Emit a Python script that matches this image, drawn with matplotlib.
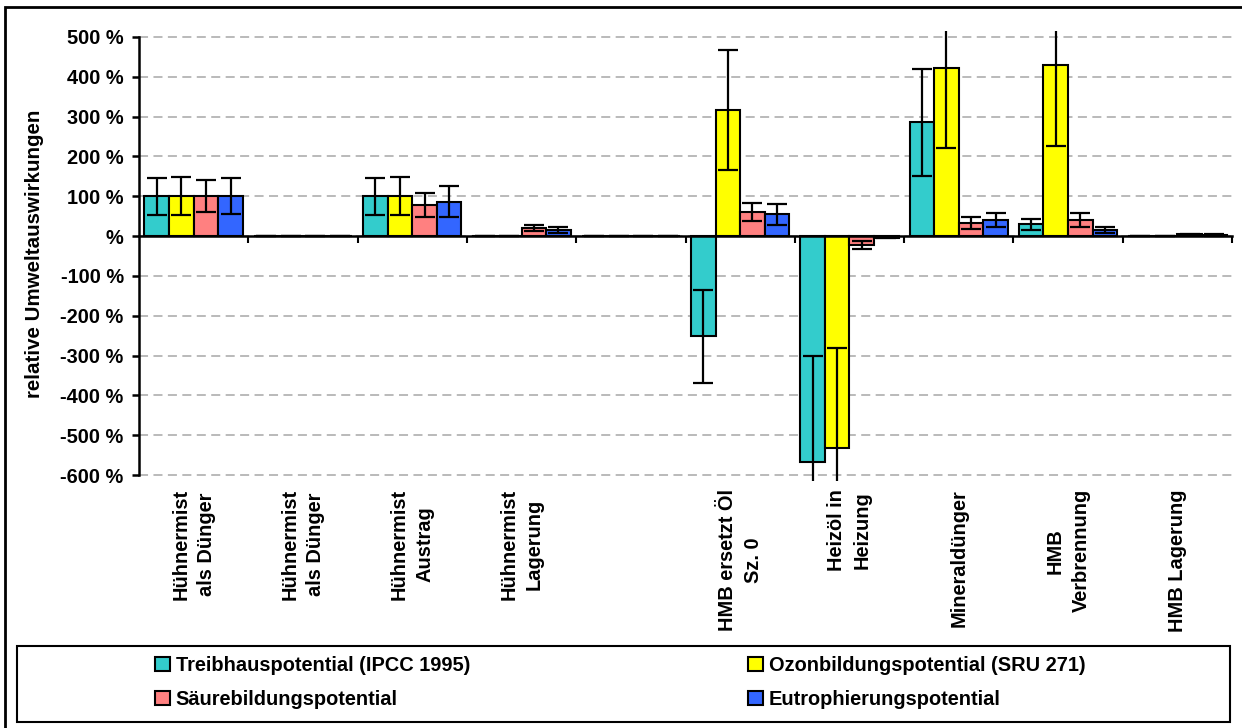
import numpy as np
import matplotlib
matplotlib.use("Agg")
import matplotlib.pyplot as plt
from matplotlib.patches import Rectangle

plt.rcParams['font.family'] = ['Liberation Sans', 'DejaVu Sans']
plt.rcParams['font.weight'] = 'bold'

# ---------------------------------------------------------
# DATA (relative environmental impacts, %)
# ---------------------------------------------------------
categories = ["Hühnermist\nals Dünger", "Hühnermist\nals Dünger", "Hühnermist\nAustrag",
              "Hühnermist\nLagerung", "", "HMB ersetzt Öl\nSz. 0", "Heizöl in\nHeizung",
              "Mineraldünger", "HMB\nVerbrennung", "HMB Lagerung"]

treib = [100, 0, 100, 0, 0, -252, -568, 286, 30, 0]
treib_err = [47, 0, 47, 0, 0, 117, 266, 134, 14, 0]
ozon = [100, 0, 100, 0, 0, 317, -531, 421, 429, 0]
ozon_err = [48, 0, 48, 0, 0, 151, 251, 200, 204, 0]
saeure = [100, 0, 78, 21, 0, 60, -23, 32, 40, 4]
saeure_err = [40, 0, 31, 8, 0, 23, 10, 15, 17, 2]
eutro = [100, 0, 86, 15, 0, 55, -4, 40, 15, 3]
eutro_err = [45, 0, 39, 7, 0, 26, 2, 18, 7, 2]

series_names = ["Treibhauspotential (IPCC 1995)", "Ozonbildungspotential (SRU 271)",
                "Säurebildungspotential", "Eutrophierungspotential"]
yticks = list(range(-600, 501, 100))

# ---------------------------------------------------------
# FIGURE
# ---------------------------------------------------------
W, H = 1242, 728
fig = plt.figure(figsize=(W / 100, H / 100), dpi=100)
ax = fig.add_axes([139 / W, (H - 481) / H, (1232 - 139) / W, (481 - 31) / H])

colors = ["#33CCCC", "#FFFF00", "#FF8080", "#3366FF"]
vals = [treib, ozon, saeure, eutro]
errs = [treib_err, ozon_err, saeure_err, eutro_err]

x = np.arange(len(categories))
w = 0.225
bars = []
for i in range(4):
    b = ax.bar(x + (i - 1.5) * w, vals[i], width=w, color=colors[i],
               edgecolor="black", linewidth=1.5, label=series_names[i], zorder=3,
               yerr=errs[i],
               error_kw=dict(ecolor="black", elinewidth=1.6, capsize=7, capthick=1.6, zorder=4))
    bars.append(b)

ax.set_xlim(-0.5, len(categories) - 0.5)
ax.set_ylim(-615, 515)

# axes styling
for s in ["top", "right"]:
    ax.spines[s].set_visible(False)
ax.spines["left"].set_bounds(-600, 500)
ax.spines["left"].set_linewidth(1.8)
ax.spines["bottom"].set_position(("data", 0))
ax.spines["bottom"].set_linewidth(1.8)
ax.spines["bottom"].set_zorder(5)

ax.set_yticks(yticks)
ax.set_yticklabels([f"{v} %" if v != 0 else "%" for v in yticks], fontsize=14.4, fontweight="bold")
ax.tick_params(axis="y", direction="out", length=5, width=1.8, pad=6)

ax.set_xticks(x)
ax.set_xticklabels([])
ax.tick_params(axis="x", which="major", length=0)
ax.set_xticks(np.arange(len(categories)) + 0.5, minor=True)
ax.tick_params(axis="x", which="minor", direction="out", length=5, width=1.5)

ax.yaxis.grid(True, color="#b4b4b4", linestyle=(0, (5, 3)), linewidth=1.3)
ax.set_axisbelow(True)

# category labels below plot area
for xi, lab in zip(x, categories):
    ax.annotate(lab, xy=(xi, 0), xycoords=("data", "axes fraction"),
                xytext=(0, -8), textcoords="offset pixels",
                rotation=90, ha="center", va="top", multialignment="center",
                fontsize=14.4, fontweight="bold", linespacing=1.45)

fig.text(35 / W, 1 - 254 / H, "relative Umweltauswirkungen", rotation=90,
         ha="center", va="center", fontsize=14.8, fontweight="bold")

# legend
handles = [bars[0], bars[2], bars[1], bars[3]]
labels = [series_names[0], series_names[2], series_names[1], series_names[3]]
fig.legend(handles, labels, ncol=2, loc="center",
           bbox_to_anchor=(620 / W, 1 - 682.5 / H), frameon=False,
           prop=dict(size=14.4, weight="bold"), handlelength=0.75, handleheight=0.75,
           handletextpad=0.3, columnspacing=13.9, labelspacing=0.75)

# legend box and outer frame
fig.patches.append(Rectangle((17 / W, 1 - 722 / H), (1230 - 17) / W, (722 - 646) / H,
                             transform=fig.transFigure, fill=False, edgecolor="black", linewidth=1.5))
fig.patches.append(Rectangle((5 / W, 1 - 740 / H), (1260 - 5) / W, (740 - 7) / H,
                             transform=fig.transFigure, fill=False, edgecolor="black", linewidth=2))

fig.savefig("out.png", dpi=100, facecolor="white")
